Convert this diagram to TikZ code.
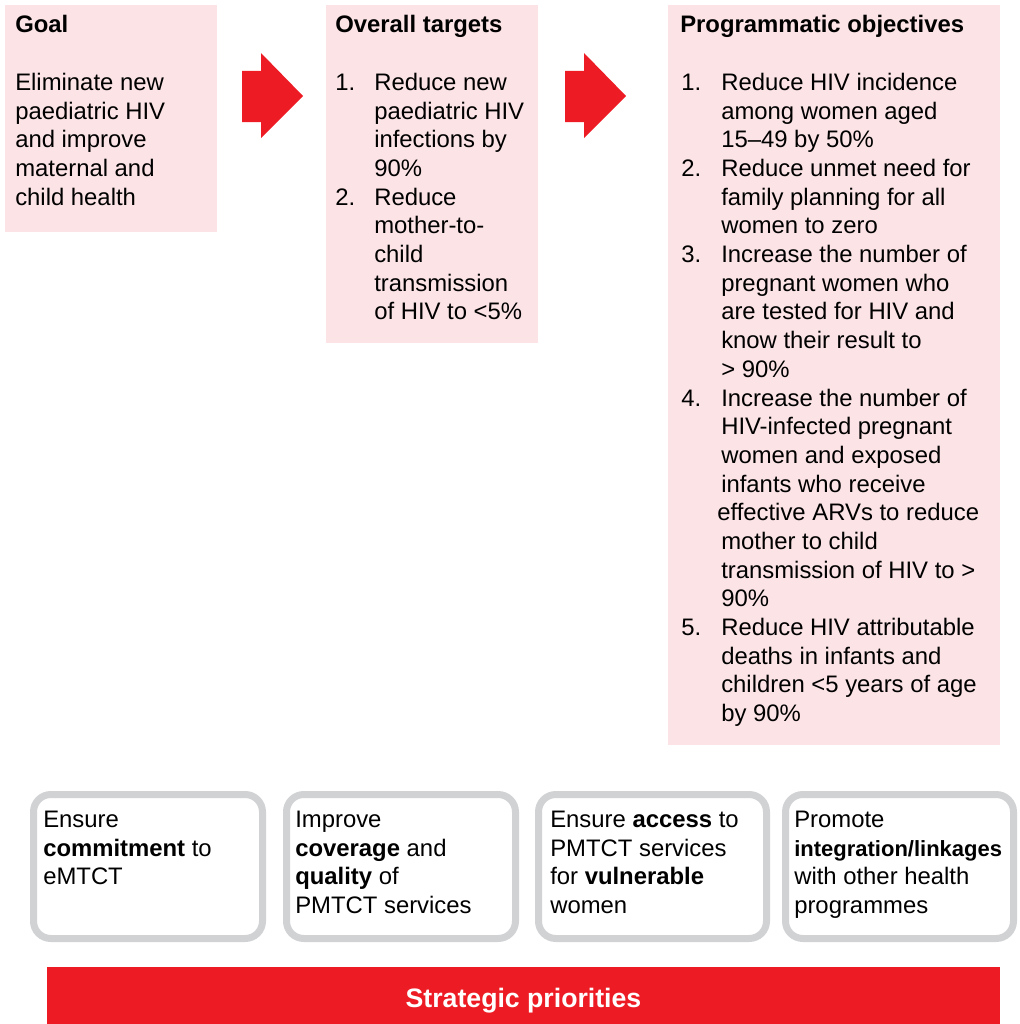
\documentclass[tikz,border=0pt]{standalone}
\usepackage{fontspec}
\setmainfont{Liberation Sans}

\definecolor{boxpink}{HTML}{FCE4E6}
\definecolor{arrowred}{HTML}{ED1C24}
\definecolor{framegray}{HTML}{D1D2D4}

% each text starts with \strut, so its first baseline lies 20px below the node top
\tikzset{
  body/.style={anchor=north west,inner sep=0pt,align=left,font=\fontsize{17.9}{21.5}\selectfont},
  title/.style={body,font=\fontsize{17.9}{21.5}\selectfont\bfseries},
  pinkbox/.style={fill=boxpink},
  blockarrow/.style={fill=arrowred},
  frame/.style={draw=framegray,line width=5.25pt,rounded corners=13pt,fill=white},
}

\begin{document}
\begin{tikzpicture}[x=0.75pt,y=-0.75pt]
\useasboundingbox (0,0) rectangle (1020,1024);

% top row
\fill[pinkbox] (5,5) rectangle (217,232);
\fill[pinkbox] (326,5) rectangle (538,343);
\fill[pinkbox] (668,5) rectangle (1000,745);

\foreach \x in {242,565}
  \fill[blockarrow] (\x,71) -- ++(19,0) -- ++(0,-18) -- ++(42,43)
    -- ++(-42,42) -- ++(0,-16) -- ++(-19,0) -- cycle;

\node[title] (goal) at (15,12) {\strut Goal};
\node[body] (goaltext) at (15,70) {\strut Eliminate new\\paediatric HIV\\and improve\\maternal and\\child health};

\node[title] (targets) at (335,12) {\strut Overall targets};
\node[body] (t1) at (335,70) {\strut 1.};
\node[body] (t1text) at (374,70) {\strut Reduce new\\paediatric HIV\\infections by\\90\%};
\node[body] (t2) at (335,184.8) {\strut 2.};
\node[body] (t2text) at (374,184.8) {\strut Reduce\\mother-to-\\child\\transmission\\of HIV to <5\%};

\node[title] (objectives) at (680,12) {\strut Programmatic objectives};
\node[body] (o1) at (681,70) {\strut 1.};
\node[body] (o1text) at (721,70) {\strut Reduce HIV incidence\\among women aged\\15–49 by 50\%};
\node[body] (o2) at (681,156.1) {\strut 2.};
\node[body] (o2text) at (721,156.1) {\strut Reduce unmet need for\\family planning for all\\women to zero};
\node[body] (o3) at (681,242.2) {\strut 3.};
\node[body] (o3text) at (721,242.2) {\strut Increase the number of\\pregnant women who\\are tested for HIV and\\know their result to\\> 90\%};
\node[body] (o4) at (681,385.7) {\strut 4.};
\node[body] (o4text) at (721,385.7) {\strut Increase the number of\\HIV-infected pregnant\\women and exposed\\infants who receive\\\kern-3pt effective ARVs to reduce\\mother to child\\transmission of HIV to >\\90\%};
\node[body] (o5) at (681,615.3) {\strut 5.};
\node[body] (o5text) at (721,615.3) {\strut Reduce HIV attributable\\deaths in infants and\\children <5 years of age\\by 90\%};

% strategic priorities
\draw[frame] (33.5,794.5) rectangle (262.5,938.5);
\draw[frame] (286.5,794.5) rectangle (515.5,938.5);
\draw[frame] (538.5,794.5) rectangle (766.5,938.5);
\draw[frame] (785.5,794.5) rectangle (1013.5,938.5);

\node[body] (commitment) at (43,807) {\strut Ensure\\\textbf{commitment} to\\eMTCT};
\node[body] (coverage) at (295,807) {\strut Improve\\\textbf{coverage} and\\\textbf{quality} of\\PMTCT services};
\node[body] (access) at (550,807) {\strut Ensure \textbf{access} to\\PMTCT services\\for \textbf{vulnerable}\\women};
\node[body] (integration) at (794,807) {\strut Promote\\{\fontsize{16.5}{21.5}\selectfont\textbf{integration/linkages}}\\with other health\\programmes};

\fill[arrowred] (47,967) rectangle (1000,1024);
\node[font=\fontsize{20}{24}\selectfont\bfseries,text=white,inner sep=0pt] (priorities) at (523.5,1001) {Strategic priorities};

\end{tikzpicture}
\end{document}
